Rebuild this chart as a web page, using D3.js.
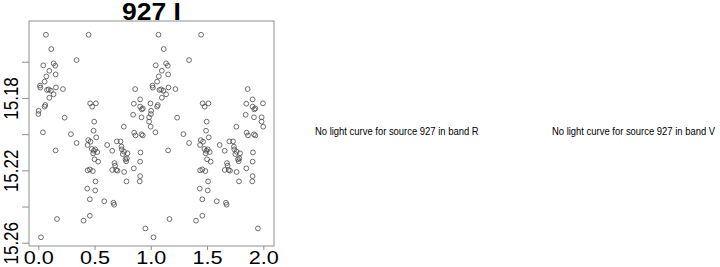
<!DOCTYPE html>
<html>
<head>
<meta charset="utf-8">
<script src="https://cdn.jsdelivr.net/npm/d3@7"></script>
<style>
  body { margin: 0; background: #fff; }
  svg { display: block; font-family: "Liberation Sans", Arial, sans-serif; }
</style>
</head>
<body>
<div id="chart"></div>
<script>
// phase-folded light curve, source 927, band I (each point is drawn at phase and phase+1)
const phase = [
  0.068, 0.447, 0.115, 0.340, 0.044, 0.136, 0.151, 0.098, 0.071, 0.154,
  0.056, 0.015, 0.018, 0.077, 0.092, 0.112, 0.157, 0.219, 0.136, 0.098,
  0.062, 0.056, 0.003, 0.001, 0.234, 0.041, 0.290, 0.340, 0.154, 0.461,
  0.512, 0.479, 0.497, 0.491, 0.515, 0.444, 0.464, 0.438, 0.476, 0.494,
  0.506, 0.524, 0.488, 0.500, 0.532, 0.438, 0.458, 0.485, 0.509, 0.435,
  0.506, 0.458, 0.402, 0.458, 0.166, 0.024, 0.586, 0.668, 0.674, 0.612,
  0.698, 0.731, 0.760, 0.739, 0.742, 0.763, 0.751, 0.775, 0.787, 0.793,
  0.781, 0.677, 0.683, 0.657, 0.692, 0.704, 0.763, 0.784, 0.849, 0.852,
  0.864, 0.843, 0.905, 0.861, 0.849, 0.905, 0.929, 0.920, 0.917, 0.917,
  0.929, 0.908, 0.905, 0.902, 0.952, 0.997, 0.985, 0.985, 0.999, 0.905,
  0.657
];
const mag = [
  15.1451, 15.1451, 15.1530, 15.1591, 15.1620, 15.1609, 15.1622, 15.1650, 15.1681, 15.1670,
  15.1710, 15.1732, 15.1743, 15.1756, 15.1753, 15.1760, 15.1742, 15.1751, 15.1780, 15.1799,
  15.1839, 15.1848, 15.1871, 15.1889, 15.1909, 15.1990, 15.2000, 15.2049, 15.2090, 15.1830,
  15.1830, 15.1848, 15.1931, 15.1981, 15.2018, 15.2033, 15.2042, 15.2060, 15.2082, 15.2092,
  15.2084, 15.2099, 15.2106, 15.2139, 15.2152, 15.2200, 15.2195, 15.2204, 15.2261, 15.2301,
  15.2311, 15.2360, 15.2478, 15.2451, 15.2469, 15.2570, 15.2371, 15.2379, 15.2390, 15.2060,
  15.2040, 15.2040, 15.1959, 15.2069, 15.2084, 15.2097, 15.2110, 15.2139, 15.2134, 15.2106,
  15.2150, 15.2160, 15.2174, 15.2198, 15.2198, 15.2202, 15.2209, 15.2261, 15.2189, 15.1992,
  15.2007, 15.1893, 15.1848, 15.1751, 15.1832, 15.1808, 15.1858, 15.1863, 15.1907, 15.2001,
  15.2007, 15.2101, 15.2232, 15.2261, 15.2521, 15.1830, 15.1907, 15.1931, 15.1959, 15.2152,
  15.2092
];
const xTicks = [0, 0.5, 1, 1.5, 2];
const xTickLabels = ["0.0", "0.5", "1.0", "1.5", "2.0"];
const yTicks = [15.16, 15.18, 15.20, 15.22, 15.24, 15.26];
const yTickLabels = ["", "15.18", "", "15.22", "", "15.26"];
const title = "927 I";
const missingBands = ["R", "V"];

const width = 720, height = 267;
const box = { left: 29, right: 274, top: 21, bottom: 246 };
const grey = "#8f8f8f";

const svg = d3.select("#chart").append("svg")
    .attr("width", width)
    .attr("height", height);

// magnitudes: brighter (smaller) at the top
let x = d3.scaleLinear()
    .domain([-0.0827, 2.0951])
    .range([box.left, box.right]);
let y = d3.scaleLinear()
    .domain([15.1375, 15.2618])
    .range([box.top, box.bottom]);

let points = [];
for (let i = 0; i < phase.length; ++i) {
    points.push([phase[i], mag[i]]);
    points.push([phase[i] + 1, mag[i]]);
}

svg.append("g")
    .selectAll("circle")
    .data(points)
    .join("circle")
    .attr("cx", function(d) { return x(d[0]); })
    .attr("cy", function(d) { return y(d[1]); })
    .attr("r", 2.4)
    .attr("fill", "none")
    .attr("stroke", "#4a4a4a")
    .attr("stroke-width", 0.8);

// frame
svg.append("rect")
    .attr("x", box.left)
    .attr("y", box.top)
    .attr("width", box.right - box.left)
    .attr("height", box.bottom - box.top)
    .attr("fill", "none")
    .attr("stroke", grey)
    .attr("stroke-width", 1);

// x axis
let xAxis = d3.axisBottom(x)
    .tickValues(xTicks)
    .tickSize(4)
    .tickFormat(function(d, i) { return xTickLabels[i]; });
let gx = svg.append("g")
    .attr("transform", "translate(0," + box.bottom + ")")
    .call(xAxis);
gx.select(".domain").remove();
gx.selectAll("line").attr("stroke", grey);
gx.selectAll("text")
    .attr("y", null).attr("dy", null)
    .attr("transform", "translate(0,17.5) scale(1.2,1)")
    .attr("fill", "#000")
    .style("font-size", "18px");

// y axis, only every other tick is labelled
let yAxis = d3.axisLeft(y)
    .tickValues(yTicks)
    .tickSize(7)
    .tickFormat(function(d, i) { return yTickLabels[i]; });
let gy = svg.append("g")
    .attr("transform", "translate(" + box.left + ",0)")
    .call(yAxis);
gy.select(".domain").remove();
gy.selectAll("line").attr("stroke", grey);
gy.selectAll("text")
    .filter(function() { return this.textContent === ""; })
    .remove();
gy.selectAll("text")
    .attr("x", null).attr("dy", null)
    .attr("text-anchor", "middle")
    .attr("transform", "translate(-11.5,0) rotate(-90) scale(1,1.18)")
    .attr("fill", "#000")
    .style("font-size", "17px");

// title
svg.append("text")
    .attr("text-anchor", "middle")
    .attr("transform", "translate(" + ((box.left + box.right) / 2) + ",19.5) scale(1.15,1)")
    .style("font-size", "23px")
    .style("font-weight", "bold")
    .text(title);

// empty panels
svg.selectAll(".nolc")
    .data(missingBands)
    .join("text")
    .attr("class", "nolc")
    .attr("transform", function(d, i) {
        return "translate(" + (i === 0 ? 315 : 552) + ",135) scale(0.9,1)";
    })
    .style("font-size", "10.5px")
    .text(function(d) { return "No light curve for source 927 in band " + d; });
</script>
</body>
</html>
